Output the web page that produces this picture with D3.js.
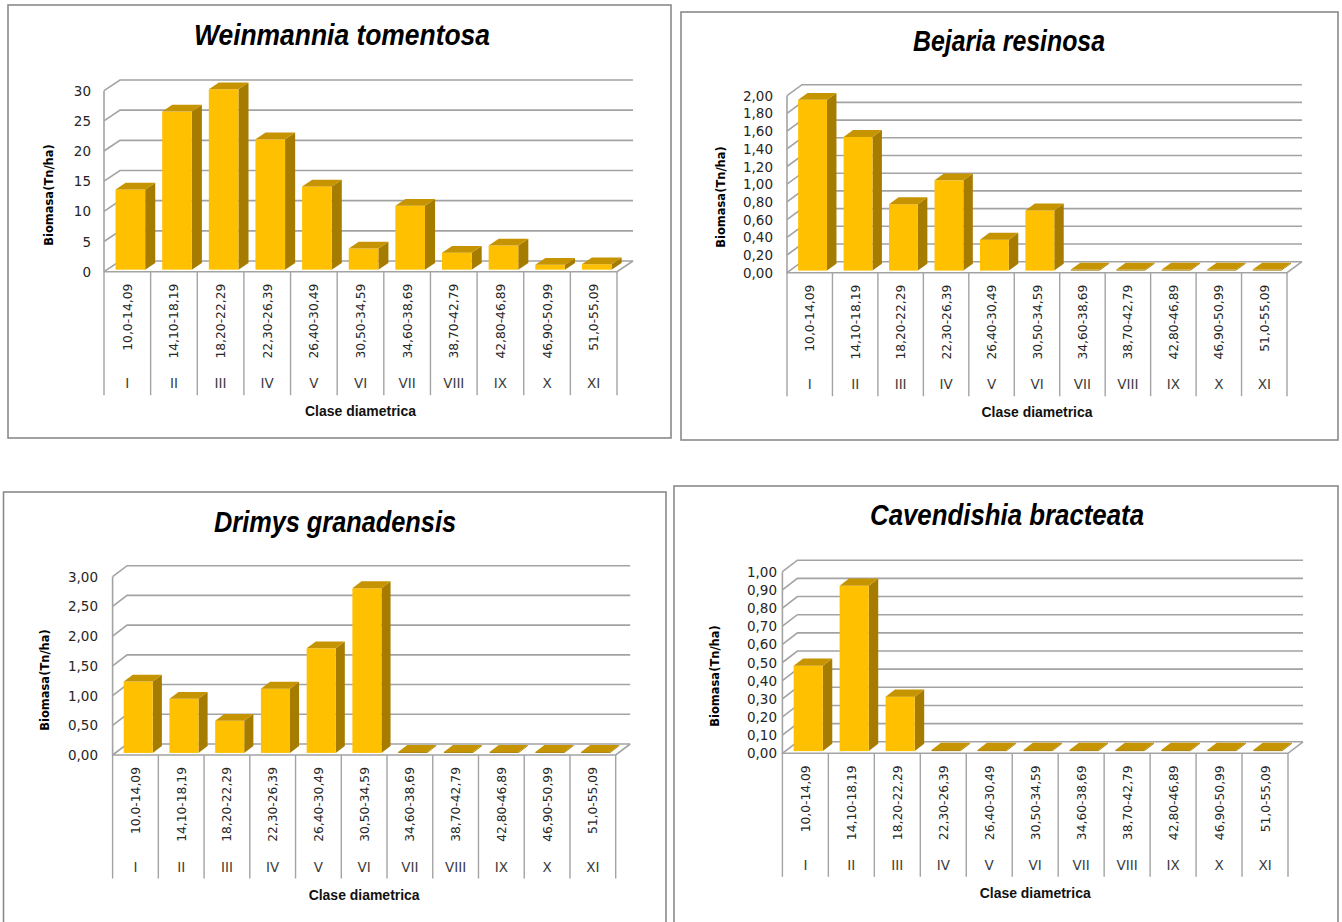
<!DOCTYPE html>
<html>
<head>
<meta charset="utf-8">
<script src="https://cdn.jsdelivr.net/npm/d3@7"></script>
<style>
  body { margin: 0; background: #ffffff; }
  svg { display: block; }
</style>
</head>
<body>
<svg id="chart" width="1342" height="922"></svg>
<script>
// Diameter classes (cm) and their roman class numbers
const diameterClasses = ["10,0-14,09", "14,10-18,19", "18,20-22,29", "22,30-26,39", "26,40-30,49",
  "30,50-34,59", "34,60-38,69", "38,70-42,79", "42,80-46,89", "46,90-50,99", "51,0-55,09"];
const classNumerals = ["I", "II", "III", "IV", "V", "VI", "VII", "VIII", "IX", "X", "XI"];

// Biomass (Tn/ha) per diameter class for each species
const weinmanniaTomentosa = [13.3, 26.2, 29.9, 21.6, 13.8, 3.5, 10.6, 2.8, 4.0, 0.8, 0.9];
const bejariaResinosa     = [1.93, 1.51, 0.75, 1.02, 0.35, 0.68, 0, 0, 0, 0, 0];
const drimysGranadensis   = [1.20, 0.91, 0.54, 1.08, 1.76, 2.77, 0, 0, 0, 0, 0];
const cavendishiaBracteata = [0.47, 0.91, 0.30, 0, 0, 0, 0, 0, 0, 0, 0];

// Value-axis ticks
const weinmanniaTicks = [0, 5, 10, 15, 20, 25, 30];
const bejariaTicks = [0, 0.2, 0.4, 0.6, 0.8, 1.0, 1.2, 1.4, 1.6, 1.8, 2.0];
const drimysTicks = [0, 0.5, 1.0, 1.5, 2.0, 2.5, 3.0];
const cavendishiaTicks = [0, 0.1, 0.2, 0.3, 0.4, 0.5, 0.6, 0.7, 0.8, 0.9, 1.0];

const yAxisTitle = "Biomasa(Tn/ha)";
const xAxisTitle = "Clase diametrica";

// Spanish number formatting (decimal comma)
const esLocale = d3.formatLocale({ decimal: ",", thousands: ".", grouping: [3], currency: ["", ""] });
const fmtInt = esLocale.format("d");
const fmt2 = esLocale.format(".2f");

const panels = [
  { title: "Weinmannia tomentosa", values: weinmanniaTomentosa, ticks: weinmanniaTicks, fmt: fmtInt,
    frame: [8, 5, 663, 433], x0: 104, x1: 617, y0: 271.7, yTop: 90.7, dx: 16, dy: -10.7,
    labelRight: 91, titleX: 342, titleY: 45, titleW: 296, yTitleX: 49, yTitleY: 195 },
  { title: "Bejaria resinosa", values: bejariaResinosa, ticks: bejariaTicks, fmt: fmt2,
    frame: [681, 12, 657, 428], x0: 787, x1: 1287, y0: 272.7, yTop: 95.7, dx: 15, dy: -11,
    labelRight: 773, titleX: 1009, titleY: 51, titleW: 192, yTitleX: 721, yTitleY: 197 },
  { title: "Drimys granadensis", values: drimysGranadensis, ticks: drimysTicks, fmt: fmt2,
    frame: [3.5, 492, 662.5, 440], x0: 112.6, x1: 615.7, y0: 755, yTop: 576.7, dx: 14.5, dy: -11,
    labelRight: 98, titleX: 335, titleY: 531.5, titleW: 242, yTitleX: 45, yTitleY: 680 },
  { title: "Cavendishia bracteata", values: cavendishiaBracteata, ticks: cavendishiaTicks, fmt: fmt2,
    frame: [674, 486, 664, 440], x0: 782.4, x1: 1288, y0: 753.3, yTop: 571.7, dx: 15, dy: -11.5,
    labelRight: 777, titleX: 1007, titleY: 525, titleW: 274, yTitleX: 714.6, yTitleY: 676 }
];

const svg = d3.select("#chart");
const gridColor = "#a3a3a3";
const textColor = "#262626";
const barFront = "#FFC000";
const barTop = "#C69400";
const barSide = "#A67C00";

panels.forEach(p => {
  const g = svg.append("g");
  const [fx, fy, fw, fh] = p.frame;

  g.append("rect")
    .attr("x", fx).attr("y", fy).attr("width", fw).attr("height", fh)
    .attr("fill", "#ffffff").attr("stroke", "#8a8a8a").attr("stroke-width", 1.6);

  g.append("text")
    .attr("x", p.titleX).attr("y", p.titleY)
    .attr("text-anchor", "middle")
    .attr("font-family", "'Liberation Sans', Arial, sans-serif")
    .attr("font-size", 29).attr("font-weight", "bold").attr("font-style", "italic")
    .attr("textLength", p.titleW).attr("lengthAdjust", "spacingAndGlyphs")
    .attr("fill", "#000")
    .text(p.title);

  const maxV = p.ticks[p.ticks.length - 1];
  const y = d3.scaleLinear().domain([0, maxV]).range([p.y0, p.yTop]);
  const x = d3.scaleBand().domain(diameterClasses).range([p.x0, p.x1]);
  const bw = x.bandwidth();

  // Back wall gridlines with their diagonal on the side wall
  g.append("g").selectAll("path").data(p.ticks).join("path")
    .attr("d", t => `M${p.x0},${y(t)} L${p.x0 + p.dx},${y(t) + p.dy} L${p.x1 + p.dx},${y(t) + p.dy}`)
    .attr("fill", "none").attr("stroke", gridColor).attr("stroke-width", 1.6);

  // Side wall front edge, floor front edge and floor right edge
  g.append("path")
    .attr("d", `M${p.x0},${y(maxV)} L${p.x0},${p.y0} L${p.x1},${p.y0} L${p.x1 + p.dx},${p.y0 + p.dy}`)
    .attr("fill", "none").attr("stroke", gridColor).attr("stroke-width", 1.6);

  // Value tick labels
  g.append("g").selectAll("text").data(p.ticks).join("text")
    .attr("x", p.labelRight).attr("y", t => y(t))
    .attr("text-anchor", "end").attr("dominant-baseline", "central")
    .attr("font-family", "'DejaVu Sans', Verdana, sans-serif").attr("font-size", 13.5)
    .attr("fill", textColor)
    .text(t => p.fmt(t));

  // Value axis title
  g.append("text")
    .attr("transform", `translate(${p.yTitleX},${p.yTitleY}) rotate(-90)`)
    .attr("text-anchor", "middle").attr("dominant-baseline", "central")
    .attr("font-family", "'DejaVu Sans', Verdana, sans-serif").attr("font-size", 11.5)
    .attr("font-weight", "bold").attr("fill", "#000")
    .text(yAxisTitle);

  // 3D columns
  const sx = 0.19 * p.dx, sy = 0.19 * p.dy;     // shift of the column front plane
  const ddx = 0.63 * p.dx, ddy = 0.63 * p.dy;   // column depth
  const colW = bw * 0.635;
  const bars = g.append("g");
  p.values.forEach((v, i) => {
    const bx = x(diameterClasses[i]) + (bw - colW) / 2 + sx;
    const base = p.y0 + sy;
    const top = Math.min(y(v) + sy, base - 1);
    // side
    bars.append("path")
      .attr("d", `M${bx + colW},${top} L${bx + colW + ddx},${top + ddy} L${bx + colW + ddx},${base + ddy} L${bx + colW},${base} Z`)
      .attr("fill", barSide);
    // front
    bars.append("rect")
      .attr("x", bx).attr("y", top).attr("width", colW).attr("height", base - top)
      .attr("fill", v > 0 ? barFront : barSide);
    // top
    bars.append("path")
      .attr("d", `M${bx},${top} L${bx + ddx},${top + ddy} L${bx + colW + ddx},${top + ddy} L${bx + colW},${top} Z`)
      .attr("fill", barTop);
  });

  // Category separators (two-level axis)
  const sepBottom = p.y0 + 123.5;
  const bounds = diameterClasses.map(c => x(c)).concat([p.x1]);
  g.append("g").selectAll("line").data(bounds).join("line")
    .attr("x1", d => d).attr("x2", d => d)
    .attr("y1", p.y0).attr("y2", sepBottom)
    .attr("stroke", gridColor).attr("stroke-width", 1.4);

  // Diameter range labels (vertical)
  g.append("g").selectAll("text").data(diameterClasses).join("text")
    .attr("transform", c => `translate(${x(c) + bw / 2 + 4.5},${p.y0 + 12}) rotate(-90)`)
    .attr("text-anchor", "end")
    .attr("font-family", "'DejaVu Sans', Verdana, sans-serif").attr("font-size", 12.3)
    .attr("fill", textColor)
    .text(c => c);

  // Roman class numbers
  g.append("g").selectAll("text").data(classNumerals).join("text")
    .attr("x", (r, i) => x(diameterClasses[i]) + bw / 2)
    .attr("y", p.y0 + 111.5)
    .attr("text-anchor", "middle").attr("dominant-baseline", "central")
    .attr("font-family", "'DejaVu Sans', Verdana, sans-serif").attr("font-size", 13.5)
    .attr("fill", "#3a3a3a")
    .text(r => r);

  // Category axis title
  g.append("text")
    .attr("x", (p.x0 + p.x1) / 2).attr("y", p.y0 + 139.5)
    .attr("text-anchor", "middle").attr("dominant-baseline", "central")
    .attr("font-family", "'Liberation Sans', Arial, sans-serif").attr("font-size", 14.5)
    .attr("font-weight", "bold")
    .attr("textLength", 111).attr("lengthAdjust", "spacingAndGlyphs")
    .attr("fill", "#111")
    .text(xAxisTitle);
});
</script>
</body>
</html>
